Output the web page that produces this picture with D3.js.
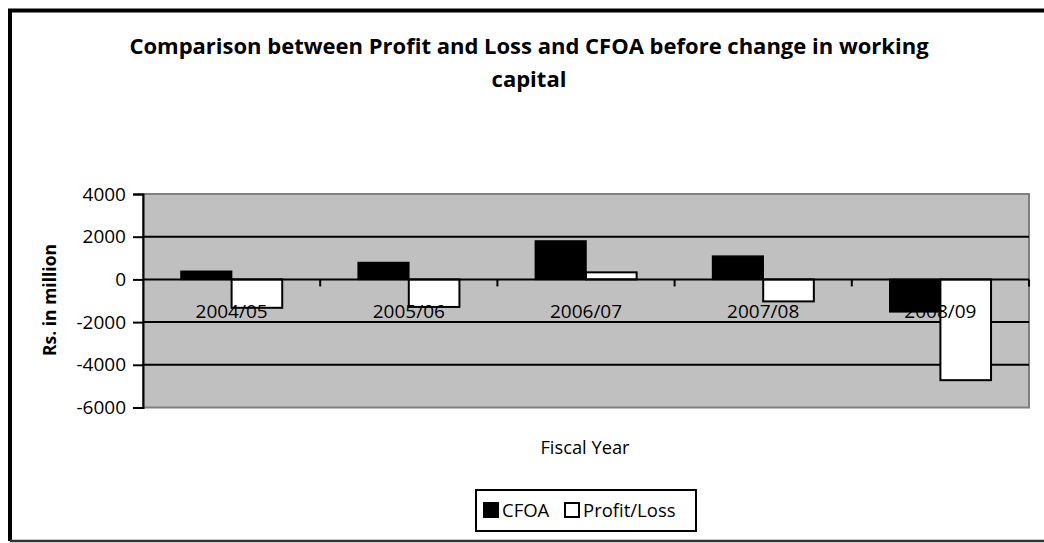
<!DOCTYPE html>
<html>
<head>
<meta charset="utf-8">
<script src="https://cdn.jsdelivr.net/npm/d3@7"></script>
<style>
  body { margin: 0; background: #fff; }
  text { font-family: "Open Sans", sans-serif; fill: #000; }
</style>
</head>
<body>
<svg id="chart" width="1044" height="543"></svg>
<script>
// data (Rs. in million)
var years = ["2004/05", "2005/06", "2006/07", "2007/08", "2008/09"];
var cfoa = [380, 790, 1800, 1090, -1520];
var profitLoss = [-1330, -1290, 330, -1030, -4720];
var seriesNames = ["CFOA", "Profit/Loss"];
var yTicks = [4000, 2000, 0, -2000, -4000, -6000];

var svg = d3.select("#chart");

// plot area box
var plotLeft = 143, plotRight = 1029, plotTop = 194, plotBottom = 407.5;

// outer chart border (right side runs off the picture)
svg.append("path")
   .attr("d", "M10,541 L10,10.5 L1050,10.5")
   .attr("fill", "none")
   .attr("stroke", "#000")
   .attr("stroke-width", 4);
svg.append("line")
   .attr("x1", 10).attr("x2", 1044)
   .attr("y1", 541).attr("y2", 541)
   .attr("stroke", "#333").attr("stroke-width", 2.5);

// title
var title = svg.append("text")
   .attr("text-anchor", "middle")
   .attr("font-weight", "bold")
   .attr("font-size", 22);
title.append("tspan").attr("x", 529).attr("y", 54)
   .text("Comparison between Profit and Loss and CFOA before change in working");
title.append("tspan").attr("x", 529).attr("y", 87).text("capital");

var xScale = d3.scaleBand()
   .domain(years)
   .range([plotLeft, plotRight]);

var yScale = d3.scaleLinear()
   .domain([-6000, 4000])
   .range([plotBottom, plotTop]);

// gap width 150% like the original spreadsheet chart
var barWidth = xScale.bandwidth() / 3.5;
var gap = barWidth * 0.75;

// grey plot background
svg.append("rect")
   .attr("x", plotLeft).attr("y", plotTop)
   .attr("width", plotRight - plotLeft).attr("height", plotBottom - plotTop)
   .attr("fill", "#c0c0c0")
   .attr("stroke", "#808080")
   .attr("stroke-width", 2);

// gridlines
svg.selectAll(".grid")
   .data(yTicks.filter(function(d) { return d != 0 && d != -6000 && d != 4000; }))
   .enter()
   .append("line")
   .attr("class", "grid")
   .attr("x1", plotLeft).attr("x2", plotRight)
   .attr("y1", function(d) { return yScale(d); })
   .attr("y2", function(d) { return yScale(d); })
   .attr("stroke", "#000")
   .attr("stroke-width", 2);

// CFOA bars
svg.selectAll(".cfoa")
   .data(cfoa)
   .enter()
   .append("rect")
   .attr("class", "cfoa")
   .attr("x", function(d, i) { return xScale(years[i]) + gap; })
   .attr("y", function(d) { return yScale(Math.max(0, d)); })
   .attr("width", barWidth)
   .attr("height", function(d) { return Math.abs(yScale(d) - yScale(0)); })
   .attr("fill", "#000")
   .attr("stroke", "#000")
   .attr("stroke-width", 1.5);

// Profit/Loss bars
svg.selectAll(".pl")
   .data(profitLoss)
   .enter()
   .append("rect")
   .attr("class", "pl")
   .attr("x", function(d, i) { return xScale(years[i]) + gap + barWidth; })
   .attr("y", function(d) { return yScale(Math.max(0, d)); })
   .attr("width", barWidth)
   .attr("height", function(d) { return Math.abs(yScale(d) - yScale(0)); })
   .attr("fill", "#fff")
   .attr("stroke", "#000")
   .attr("stroke-width", 2);

// zero line with category tick marks
svg.append("line")
   .attr("x1", plotLeft).attr("x2", plotRight)
   .attr("y1", yScale(0)).attr("y2", yScale(0))
   .attr("stroke", "#000").attr("stroke-width", 2);
svg.selectAll(".catTick")
   .data(years.slice(1).concat(["end"]))
   .enter()
   .append("line")
   .attr("class", "catTick")
   .attr("x1", function(d, i) { return plotLeft + xScale.step() * (i + 1); })
   .attr("x2", function(d, i) { return plotLeft + xScale.step() * (i + 1); })
   .attr("y1", yScale(0)).attr("y2", yScale(0) + 7)
   .attr("stroke", "#000").attr("stroke-width", 2);

// category labels, drawn over the bars as in the original
svg.selectAll(".catLabel")
   .data(years)
   .enter()
   .append("text")
   .attr("class", "catLabel")
   .attr("x", function(d) { return xScale(d) + xScale.bandwidth() / 2; })
   .attr("y", yScale(0) + 39)
   .attr("text-anchor", "middle")
   .attr("font-size", 19)
   .text(function(d) { return d; });

// y axis
var yAxis = d3.axisLeft(yScale)
   .tickValues(yTicks)
   .tickSize(10)
   .tickPadding(7)
   .tickFormat(function(d) { return String(d); });
var yG = svg.append("g")
   .attr("transform", "translate(" + plotLeft + ",0)")
   .call(yAxis);
yG.select(".domain").attr("stroke", "#000").attr("stroke-width", 2);
yG.selectAll(".tick line").attr("stroke", "#000").attr("stroke-width", 2);
yG.selectAll(".tick text")
   .attr("font-family", "'Open Sans', sans-serif")
   .attr("font-size", 19)
   .attr("fill", "#000");

// axis titles
svg.append("text")
   .attr("transform", "translate(56,300) rotate(-90)")
   .attr("text-anchor", "middle")
   .attr("font-weight", "bold")
   .attr("font-size", 17.5)
   .text("Rs. in million");

svg.append("text")
   .attr("x", 585).attr("y", 454)
   .attr("text-anchor", "middle")
   .attr("font-size", 18.3)
   .text("Fiscal Year");

// legend
var legend = svg.append("g");
legend.append("rect")
   .attr("x", 476).attr("y", 490)
   .attr("width", 220).attr("height", 41)
   .attr("fill", "#fff").attr("stroke", "#000").attr("stroke-width", 2);
var legendX = [483, 564];
var legendFill = ["#000", "#fff"];
legend.selectAll(".legSwatch")
   .data(seriesNames)
   .enter()
   .append("rect")
   .attr("class", "legSwatch")
   .attr("x", function(d, i) { return legendX[i] + 1; })
   .attr("y", 503)
   .attr("width", 14).attr("height", 14)
   .attr("fill", function(d, i) { return legendFill[i]; })
   .attr("stroke", "#000").attr("stroke-width", 2);
legend.selectAll(".legText")
   .data(seriesNames)
   .enter()
   .append("text")
   .attr("class", "legText")
   .attr("x", function(d, i) { return legendX[i] + 19; })
   .attr("y", 517)
   .attr("font-size", 18.5)
   .text(function(d) { return d; });
</script>
</body>
</html>
